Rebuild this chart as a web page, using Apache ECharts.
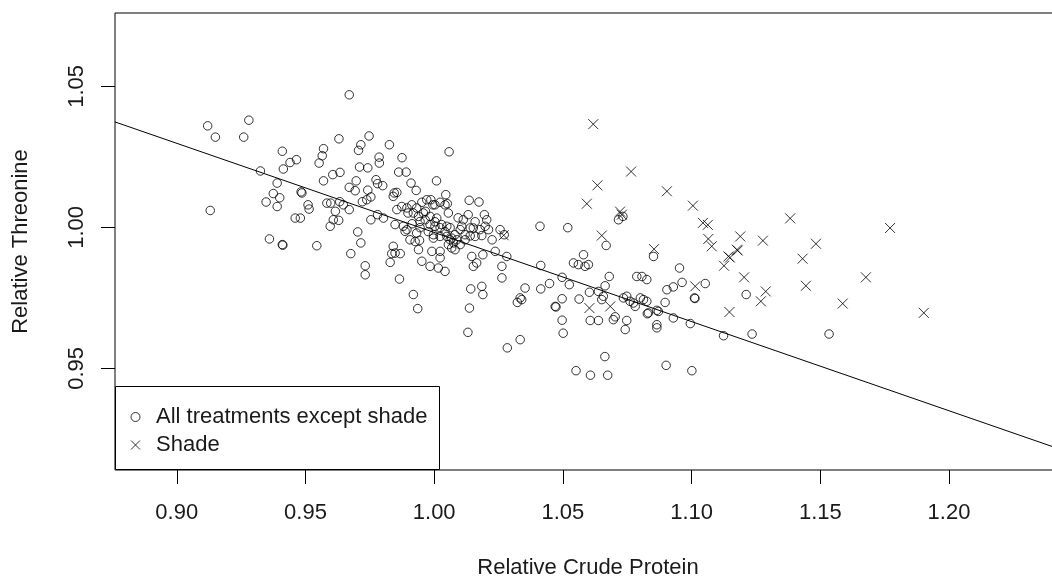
<!DOCTYPE html>
<html>
<head>
<meta charset="utf-8">
<script src="https://cdn.jsdelivr.net/npm/echarts@6/dist/echarts.min.js"></script>
<style>
  html, body { margin: 0; padding: 0; background: #fff; }
  #chart { width: 1052px; height: 580px; }
</style>
</head>
<body>
<div id="chart"></div>
<script>
// [relative crude protein, relative threonine] for every treatment other than shade
const otherTreatments = [
  [0.912,1.036],[0.915,1.032],[0.928,1.038],[0.926,1.032],[0.913,1.006],[0.9325,1.020],[0.941,1.027],[0.944,1.023],
  [0.9465,1.024],[0.9414,1.0207],[0.939,1.0157],[0.9375,1.012],[0.9347,1.009],[0.940,1.0105],[0.939,1.0074],
  [0.9483,1.0126],[0.9486,1.0122],[0.951,1.008],[0.9514,1.0065],[0.946,1.0033],[0.948,1.0033],[0.936,0.9959],
  [0.941,0.9939],[0.9412,0.9937],[0.9544,0.9935],
  [0.967,1.047],[0.957,1.0279],[0.9565,1.0254],[0.9553,1.0228],[0.963,1.0314],[0.957,1.0165],[0.9606,1.0187],
  [0.9634,1.0195],[0.9583,1.0086],[0.9598,1.0086],[0.9633,1.0091],[0.9647,1.008],[0.967,1.0063],[0.9616,1.0057],
  [0.9608,1.0027],[0.9629,1.0025],[0.9596,1.0004],[0.967,1.0142],[0.9693,1.013],[0.9697,1.0165],[0.971,1.0214],
  [0.9742,1.0211],[0.9706,1.0273],[0.9715,1.0293],[0.9747,1.0324],[0.9721,1.0091],[0.9738,1.0098],[0.9754,1.0108],
  [0.9742,1.0132],[0.9774,1.0169],[0.978,1.0155],[0.980,1.0148],[0.9754,1.0027],[0.978,1.0045],[0.9803,1.0033],
  [0.9786,1.0249],[0.9787,1.0228],[0.9826,1.0293],[0.9875,1.0247],[0.9862,1.0196],[0.9891,1.0196],[0.991,1.0157],
  [0.993,1.0131],[0.9845,1.0122],[0.9855,1.0124],[0.9841,1.011],[0.9855,1.0063],[0.9874,1.0074],[0.9894,1.0069],
  [0.9848,1.001],[0.988,1.0004],[0.9894,0.9992],[0.9703,0.9984],[0.9715,0.9945],[0.9676,0.9907],[0.9732,0.9864],
  [0.9732,0.9832],[0.9841,0.9933],[0.9848,0.9909],[0.9835,0.9907],[0.9829,0.9876],[0.9868,0.9907],[0.9865,0.9817],
  [0.9919,0.9762],[0.9936,0.9712],[0.9906,0.9956],[0.9926,0.995],[0.9943,0.9954],[0.9939,0.9921],[0.9952,0.988],
  [0.9913,1.008],[0.9932,1.0069],[0.9952,1.0089],[0.9971,1.0098],[0.9987,1.0098],[0.9919,1.0051],[0.9939,1.0039],
  [0.9958,1.0051],[0.9898,1.0051],[0.9945,1.0021],[0.9887,0.9986],[0.9932,0.998],[0.9965,1.0027],[0.9984,1.001],
  [0.9977,0.9985],[0.9945,0.9999],[0.9914,1.0013],
  [0.9991,0.9915],[0.9984,0.9862],[1.0023,0.9915],[1.0016,0.9856],[1.0042,0.9844],[1.0023,0.9892],[1.0009,1.0165],
  [1.0058,1.0268],[1.0045,1.0116],[1.0023,1.0089],[1.0003,1.008],[1.0042,1.008],[1.0055,1.0051],[1.0051,1.0084],
  [0.9995,1.008],[0.9966,1.0057],[0.9984,1.0039],[1.001,1.0033],[1.0003,1.002],[1.0003,1.0004],[1.0029,1.001],
  [1.0049,1.0004],[1.0023,0.9999],[1.0042,0.9985],[1.0062,0.9999],[1.0081,0.9974],[1.0101,0.9992],[1.012,0.9956],
  [1.014,0.997],[1.0049,0.9968],[1.0062,0.9956],[1.0075,0.9945],[1.0068,0.9927],[1.0081,0.9921],[1.0113,1.0027],
  [1.0107,1.0004],[1.012,0.9974],[1.0136,1.0096],[1.0174,1.009],[1.0195,1.0045],[1.0204,1.0027],[1.0198,1.0004],
  [1.0211,0.9992],[1.0152,0.9998],[1.0159,0.9968],[1.0185,0.9971],[1.0256,0.9992],[1.0272,0.9974],[1.0146,0.9897],
  [1.0165,0.9874],[1.0189,0.9903],[1.0152,0.9862],[1.0237,0.9915],[1.0282,0.9897],[1.0263,0.9862],[1.0263,0.9821],
  [1.0142,0.9782],[1.0185,0.9791],[1.0189,0.9762],[1.0334,0.975],[1.0353,0.9785],[1.0323,0.9734],[1.0137,0.9714],
  [1.0131,0.9628],[1.0284,0.9573],[1.0334,0.9602],[1.0093,1.0034],[1.0132,1.0045],[1.0159,1.002],[1.0225,0.9956],
  [1.0101,0.9939],[1.014,0.9998],[1.0178,0.9992],[0.9997,0.9974],[1.0023,0.9968],[1.0068,0.9962],[1.0088,0.9956],
  [0.9997,0.9962],[1.0055,0.9939],[1.034,0.9744],
  [1.0411,1.0004],[1.0414,0.9865],[1.0414,0.9782],[1.0448,0.9801],[1.047,0.972],[1.0473,0.9718],[1.0497,0.9747],
  [1.0497,0.9823],[1.0525,0.9797],[1.0519,0.9999],[1.0497,0.9671],[1.0501,0.9625],[1.0551,0.9492],[1.0607,0.9476],
  [1.0674,0.9476],[1.0663,0.9542],[1.0541,0.9874],[1.056,0.9868],[1.058,0.9903],[1.0586,0.9862],[1.0599,0.9868],
  [1.0668,0.9936],[1.068,0.9826],[1.0664,0.9793],[1.0638,0.9773],[1.0657,0.9756],[1.0651,0.9744],[1.0603,0.977],
  [1.0563,0.9746],[1.0606,0.967],[1.0638,0.967],[1.0696,0.9673],[1.0703,0.9683],[1.0748,0.967],[1.0742,0.9638],
  [1.0735,0.975],[1.0748,0.9756],[1.0761,0.9738],[1.0774,0.9732],[1.0781,0.972],[1.0801,0.975],[1.0826,0.9738],
  [1.0832,0.9697],[1.0787,0.9826],[1.0807,0.9826],[1.0826,0.9815],[1.0852,0.9897],[1.0865,0.9655],[1.0865,0.9644],
  [1.0871,0.9702],[1.0897,0.9734],[1.0904,0.9779],[1.0901,0.9511],[1.0716,1.0027],[1.0733,1.0039],[1.0953,0.9856],
  [1.0929,0.9789],[1.0963,0.9805],[1.1053,0.9801],[1.1011,0.975],[1.1013,0.9748],[1.0813,0.9744],[1.0865,0.9706],
  [1.0828,0.9694],[1.0929,0.9679],[1.0995,0.9659],[1.1124,0.9616],[1.1235,0.9622],[1.1534,0.9622],[1.1212,0.9762],
  [1.1001,0.9492]
];

// [relative crude protein, relative threonine] for the shade treatment
const shadeTreatment = [
  [1.027,0.9972],[1.0618,1.0366],[1.0765,1.0198],[1.0634,1.0149],[1.0593,1.0084],[1.0651,0.9971],[1.0729,1.0045],
  [1.0722,1.0056],[1.0854,0.9923],[1.0904,1.0128],[1.1005,1.0077],[1.1044,1.0016],[1.1063,1.0009],[1.1065,0.9959],
  [1.1078,0.9933],[1.1189,0.9968],[1.1176,0.9921],[1.1179,0.9918],[1.1143,0.9897],[1.1149,0.9893],[1.1126,0.9864],
  [1.1277,0.9953],[1.1383,1.0032],[1.1483,0.9942],[1.1431,0.9889],[1.1204,0.9823],[1.1288,0.9773],[1.1269,0.9738],
  [1.1444,0.9793],[1.1147,0.97],[1.1587,0.973],[1.1677,0.9823],[1.1771,0.9998],[1.1902,0.9697],[1.1014,0.9791],
  [1.0603,0.9714],[1.0684,0.972]
];

// fitted straight line: threonine = intercept + slope * crude protein
const fitIntercept = 1.3142;
const fitSlope = -0.316;

const xTickValues = [0.90, 0.95, 1.00, 1.05, 1.10, 1.15, 1.20];
const yTickValues = [0.95, 1.00, 1.05];
const xLimits = [0.876, 1.2435];
const yLimits = [0.914, 1.076];

const seriesNames = ['All treatments except shade', 'Shade'];
const axisTitles = ['Relative Crude Protein', 'Relative Threonine'];

const FONT = "'Liberation Sans', Arial, Helvetica, sans-serif";
const TEXT_COLOR = '#1a1a1a';
const CROSS = 'path://M0,0L10,10M10,0L0,10';

const fitLine = xLimits.map(x => [x, fitIntercept + fitSlope * x]);

const markStyle = { color: 'none', borderColor: '#000', borderWidth: 1 };

const chart = echarts.init(document.getElementById('chart'), null, { renderer: 'canvas' });

chart.setOption({
  animation: false,
  backgroundColor: '#fff',
  textStyle: { fontFamily: FONT },
  grid: {
    left: 115, top: 13, width: 946, height: 457,
    outerBoundsMode: 'none',
    containLabel: false,
    show: true, borderColor: '#000', borderWidth: 1, backgroundColor: 'transparent'
  },
  xAxis: {
    type: 'value',
    min: xLimits[0], max: xLimits[1],
    axisLine: { show: false },
    splitLine: { show: false },
    axisTick: { show: true, length: 14, customValues: xTickValues, lineStyle: { color: '#000', width: 1 } },
    axisLabel: {
      customValues: xTickValues, margin: 32, fontSize: 22, color: TEXT_COLOR, fontFamily: FONT,
      formatter: v => v.toFixed(2)
    },
    name: axisTitles[0], nameLocation: 'middle', nameGap: 87,
    nameTextStyle: { fontSize: 22, color: TEXT_COLOR, fontFamily: FONT }
  },
  yAxis: {
    type: 'value',
    min: yLimits[0], max: yLimits[1],
    axisLine: { show: false },
    splitLine: { show: false },
    axisTick: { show: true, length: 14, customValues: yTickValues, lineStyle: { color: '#000', width: 1 } },
    axisLabel: {
      customValues: yTickValues, margin: 27, rotate: 90, fontSize: 22, color: TEXT_COLOR, fontFamily: FONT,
      formatter: v => v.toFixed(2)
    },
    name: axisTitles[1], nameLocation: 'middle', nameRotate: 90, nameGap: 83,
    nameTextStyle: { fontSize: 22, color: TEXT_COLOR, fontFamily: FONT }
  },
  legend: {
    orient: 'vertical',
    left: 123.5, top: 400,
    itemWidth: 31, itemHeight: 9, itemGap: 4,
    selectedMode: false,
    z: 20,
    textStyle: { fontSize: 22, color: TEXT_COLOR, fontFamily: FONT, lineHeight: 24 },
    data: [
      { name: seriesNames[0], icon: 'circle', itemStyle: markStyle },
      { name: seriesNames[1], icon: CROSS, itemStyle: markStyle }
    ]
  },
  graphic: [{
    type: 'rect', z: 10,
    shape: { x: 115.5, y: 386.5, width: 324, height: 83 },
    style: { fill: '#fff', stroke: '#000', lineWidth: 1 }
  }],
  series: [
    {
      name: seriesNames[0], type: 'scatter', data: otherTreatments,
      symbol: 'circle', symbolSize: 8.5, itemStyle: markStyle, silent: true,
      emphasis: { disabled: true }
    },
    {
      name: seriesNames[1], type: 'scatter', data: shadeTreatment,
      symbol: CROSS, symbolSize: 10, itemStyle: markStyle, silent: true,
      emphasis: { disabled: true }
    },
    {
      name: 'fit', type: 'line', data: fitLine, showSymbol: false, symbol: 'none',
      lineStyle: { color: '#000', width: 1 }, silent: true, clip: true,
      emphasis: { disabled: true }
    }
  ]
});
</script>
</body>
</html>
